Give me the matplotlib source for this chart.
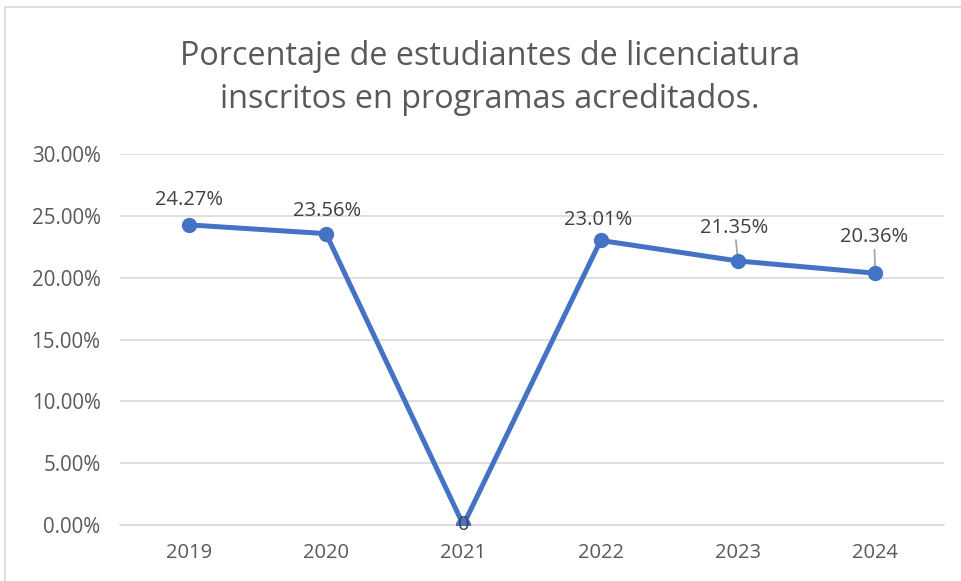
import matplotlib
matplotlib.use("Agg")
import matplotlib.pyplot as plt
from matplotlib.ticker import FuncFormatter
from matplotlib.patches import Rectangle

years = ["2019", "2020", "2021", "2022", "2023", "2024"]
values = [24.27, 23.56, 0.0, 23.01, 21.35, 20.36]
value_labels = ["24.27%", "23.56%", "0", "23.01%", "21.35%", "20.36%"]
title = "Porcentaje de estudiantes de licenciatura\ninscritos en programas acreditados."

plt.rcParams['font.family'] = ['Open Sans', 'DejaVu Sans']
gray = "#595959"
blue = "#4472C4"
label_color = "#404040"

fig = plt.figure(figsize=(9.61, 5.81), dpi=100)
fig.patch.set_facecolor("white")
fig.add_artist(Rectangle((5/961, -0.05), 1.0, 1 - 7/581 + 0.05, transform=fig.transFigure,
                         fill=False, edgecolor="#d9d9d9", linewidth=1.2))

ax = fig.add_axes([120/961, (581-525)/581, (944-120)/961, (525-154)/581])
x = list(range(len(years)))
ax.plot(x, values, color=blue, linewidth=3.6, marker="o", markersize=10, zorder=3,
        solid_capstyle="round")

ax.set_xlim(-0.5, len(years) - 0.5)
ax.set_ylim(0, 30)
ax.set_yticks([0, 5, 10, 15, 20, 25, 30])
ax.yaxis.set_major_formatter(FuncFormatter(lambda v, p: f"{v:.2f}%"))
ax.set_xticks(x)
ax.set_xticklabels(years)
ax.tick_params(axis="both", length=0, labelcolor=gray)
ax.tick_params(axis="y", labelsize=14.8, pad=14)
ax.tick_params(axis="x", labelsize=14.5, pad=13)
ax.grid(axis="y", color="#d9d9d9", linewidth=1.2)
ax.set_axisbelow(True)
for s in ["top", "right", "left"]:
    ax.spines[s].set_visible(False)
ax.spines["bottom"].set_color("#d9d9d9")
ax.spines["bottom"].set_linewidth(1.2)

# label offsets in points (dx, dy), leader flag
offsets = [(0, 18), (1, 16.5), (0, 0), (-2, 14.5), (-2.5, 24), (-1, 26)]
leaders = [False, False, False, False, True, True]
for i, (v, lab) in enumerate(zip(values, value_labels)):
    dx, dy = offsets[i]
    ax.annotate(lab, (i, v), xytext=(dx, dy), textcoords="offset points",
                ha="center", va="center", fontsize=14.5, color=label_color, zorder=4,
                annotation_clip=False)
    if leaders[i]:
        ax.annotate("", (i, v), xytext=(dx * 0.6, dy - 9), textcoords="offset points",
                    arrowprops=dict(arrowstyle="-", color="#a6a6a6", lw=1.3,
                                    shrinkA=0, shrinkB=3), zorder=2)

fig.text(490/961, 1 - 78/581, title, ha="center", va="center", fontsize=23.3,
         color=gray, linespacing=1.38)

fig.savefig("out.png", dpi=100)
